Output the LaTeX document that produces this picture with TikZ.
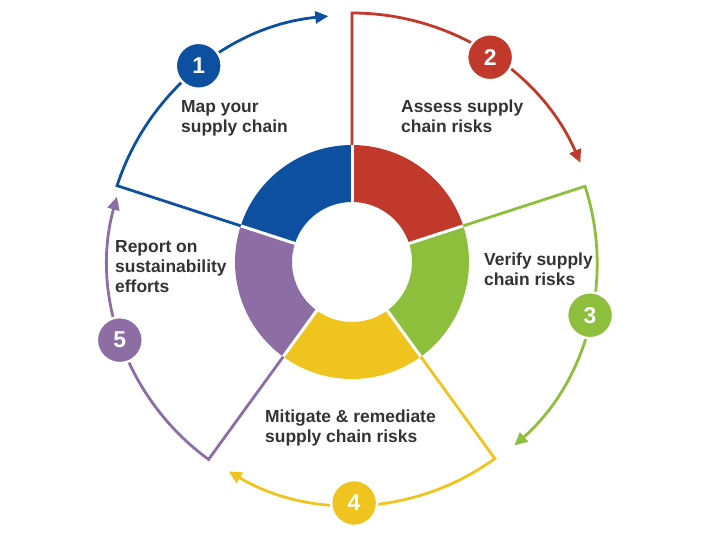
\documentclass[tikz,border=0pt]{standalone}
\usepackage{fontspec}
\setmainfont{Liberation Sans}
\usetikzlibrary{arrows.meta}
\definecolor{cblue}{RGB}{14,80,160}
\definecolor{cred}{RGB}{192,57,43}
\definecolor{cgreen}{RGB}{141,190,60}
\definecolor{cyellow}{RGB}{240,196,30}
\definecolor{cpurple}{RGB}{140,110,165}
\definecolor{ctext}{RGB}{51,51,51}
\tikzset{
  arr/.style={line width=2.8bp,-{Triangle[length=13bp,width=12bp]}},
  num/.style={circle,minimum size=46bp,inner sep=0pt,draw=white,line width=2.5pt,text=white,font=\fontsize{23}{23}\selectfont\bfseries},
  lbl/.style={anchor=north west,align=left,text=ctext,inner sep=0pt,font=\fontsize{17.5}{20}\selectfont\bfseries},
  gap/.style={white,line width=3bp}
}
\begin{document}
\begin{tikzpicture}[x=1bp,y=1bp]
  \useasboundingbox (-352,-272) rectangle (358,262);

  % ring
  \fill[cblue] (162:60bp) -- (162:117bp) arc[start angle=162,end angle=90,radius=117bp] -- (90:60bp) arc[start angle=90,end angle=162,radius=60bp] -- cycle;
  \fill[cred] (90:60bp) -- (90:117bp) arc[start angle=90,end angle=18,radius=117bp] -- (18:60bp) arc[start angle=18,end angle=90,radius=60bp] -- cycle;
  \fill[cgreen] (18:60bp) -- (18:117bp) arc[start angle=18,end angle=-54,radius=117bp] -- (-54:60bp) arc[start angle=-54,end angle=18,radius=60bp] -- cycle;
  \fill[cyellow] (-54:60bp) -- (-54:117bp) arc[start angle=-54,end angle=-126,radius=117bp] -- (-126:60bp) arc[start angle=-126,end angle=-54,radius=60bp] -- cycle;
  \fill[cpurple] (-126:60bp) -- (-126:117bp) arc[start angle=-126,end angle=-198,radius=117bp] -- (-198:60bp) arc[start angle=-198,end angle=-126,radius=60bp] -- cycle;
  \draw[gap] (162:55bp) -- (162:120bp);
  \draw[gap] (90:55bp) -- (90:120bp);
  \draw[gap] (18:55bp) -- (18:120bp);
  \draw[gap] (-54:55bp) -- (-54:120bp);
  \draw[gap] (-126:55bp) -- (-126:120bp);

  % outer arrows
  \draw[arr,cblue] (162:117bp) -- (162:247bp) arc[start angle=162,end angle=95.5,radius=247bp];
  \draw[arr,cred] (90:117bp) -- (90:249bp) arc[start angle=90,end angle=23.5,radius=249bp];
  \draw[arr,cgreen] (18:117bp) -- (18:245bp) arc[start angle=18,end angle=-48.5,radius=245bp];
  \draw[arr,cyellow] (-54:117bp) -- (-54:243bp) arc[start angle=-54,end angle=-120.5,radius=243bp];
  \draw[arr,cpurple] (-126:117bp) -- (-126:244bp) arc[start angle=-126,end angle=-195.5,radius=244bp];

  % numbers
  \node[num,fill=cblue] (n1) at (128:249bp) {1};
  \node[num,fill=cred] (n2) at (56:247bp) {2};
  \node[num,fill=cgreen] (n3) at (-12.6:244bp) {3};
  \node[num,fill=cyellow] (n4) at (-89.5:241bp) {4};
  \node[num,fill=cpurple] (n5) at (-161.4:245bp) {5};

  % labels
  \node[lbl] (l1) at (-171,162) {Map your\\supply chain};
  \node[lbl] (l2) at (49,162) {Assess supply\\chain risks};
  \node[lbl] (l3) at (132,9) {Verify supply\\chain risks};
  \node[lbl] (l4) at (-87,-148) {Mitigate \& remediate\\supply chain risks};
  \node[lbl] (l5) at (-237,22) {Report on\\sustainability\\efforts};
\end{tikzpicture}
\end{document}
